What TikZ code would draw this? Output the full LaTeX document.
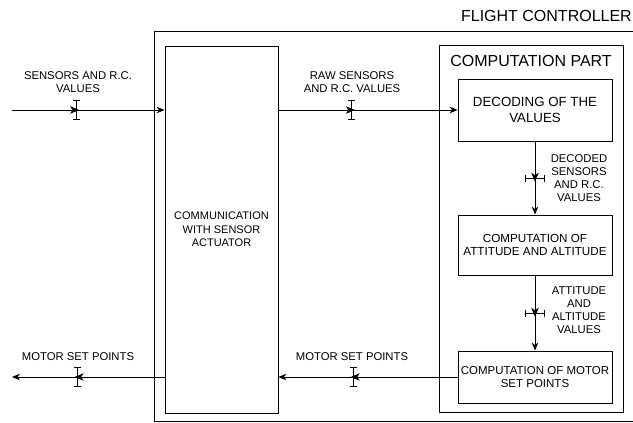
\documentclass[tikz,border=0pt]{standalone}
\usepackage{fontspec}
\setmainfont{Liberation Sans}
\usetikzlibrary{arrows.meta,positioning,calc,decorations.markings}

\begin{document}
\begin{tikzpicture}[
  x=1pt, y=-1pt,
  frame/.style={rectangle, draw, line width=0.8pt, inner sep=0pt},
  block/.style={rectangle, draw, line width=0.8pt, align=center, inner sep=2pt,
                minimum width=154pt, font=\fontsize{11.7}{13.5}\selectfont},
  title/.style={font=\fontsize{16}{18}\selectfont, inner sep=0pt},
  lbl/.style={align=center, inner sep=0pt, font=\fontsize{11.3}{13}\selectfont},
  edge/.style={draw, line width=0.8pt, -{Stealth[length=8pt,width=6.5pt,inset=2.5pt]}},
  flow/.style={postaction={decorate, decoration={markings, mark=at position #1 with {
      \arrow[xshift=3pt]{Stealth[length=9pt,width=7.5pt,inset=2.5pt]};
      \draw[-, line width=0.8pt] (0,-9.5pt) -- (0,9.5pt)
            (-3.5pt,-9.5pt) -- (3.5pt,-9.5pt) (-3.5pt,9.5pt) -- (3.5pt,9.5pt);}}}},
]
  \useasboundingbox (0,0) rectangle (633,423);

  % Column x-coordinates
  \def\xcomm{221.5}
  \def\xcomp{535}

  % Flight controller frame (runs past the right edge)
  \node[frame, minimum width=486pt, minimum height=390pt] (fc) at (397,226) {};
  \node[title, anchor=east] (fctitle) at (632,16) {FLIGHT CONTROLLER};

  % Communication block
  \node[frame, minimum width=113pt, minimum height=367pt, align=center,
        font=\fontsize{11}{13.5}\selectfont] (comm) at (\xcomm,229.5)
       {COMMUNICATION\\ WITH SENSOR\\ ACTUATOR};

  % Computation part
  \node[frame, minimum width=184pt, minimum height=367pt] (comp) at (531,228.5) {};
  \node[title] (comptitle) at (531,61) {COMPUTATION PART};
  \node[block, minimum height=62pt, font=\fontsize{13.3}{16}\selectfont] (dec) at (\xcomp,110)
       {DECODING OF THE\\ VALUES};
  \node[block, minimum height=60pt] (att) at (\xcomp,245)
       {COMPUTATION OF\\ ATTITUDE AND ALTITUDE};
  \node[block, minimum height=52pt, font=\fontsize{11.5}{13}\selectfont] (mot) at (\xcomp,377)
       {COMPUTATION OF MOTOR\\ SET POINTS};

  % Free ends
  \coordinate (in) at (12,110);
  \coordinate (out) at (12,377);

  % Data flows
  \draw[edge, flow=0.42] (in) -- (in -| comm.west);
  \draw[edge, flow=0.41] (dec.west -| comm.east) -- (dec.west);
  \draw[edge, flow=0.51] (dec.south) -- (att.north);
  \draw[edge, flow=0.51] (att.south) -- (mot.north);
  \draw[edge, flow=0.58] (mot.west) -- (mot.west -| comm.east);
  \draw[edge, flow=0.57] (mot.west -| comm.west) -- (out);

  % Flow labels
  \node[lbl] (lsens) at (78,82) {SENSORS AND R.C.\\ VALUES};
  \node[lbl] (lraw) at (352,82) {RAW SENSORS\\ AND R.C. VALUES};
  \node[lbl] (ldec) at (579,178.5) {DECODED\\ SENSORS\\ AND R.C.\\ VALUES};
  \node[lbl] (latt) at (579,310) {ATTITUDE\\ AND\\ ALTITUDE\\ VALUES};
  \node[lbl] (lmot) at (352,357) {MOTOR SET POINTS};
  \node[lbl] (lout) at (78,357) {MOTOR SET POINTS};

\end{tikzpicture}
\end{document}
